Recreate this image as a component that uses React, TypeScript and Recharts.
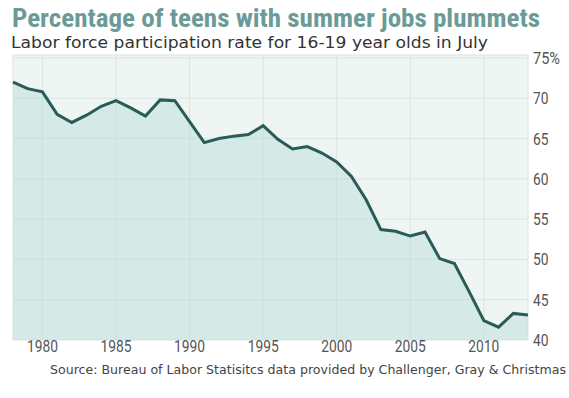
import React from 'react';
import { AreaChart, Area, XAxis, YAxis, CartesianGrid } from 'recharts';

const years = [1978,1979,1980,1981,1982,1983,1984,1985,1986,1987,1988,1989,1990,1991,1992,1993,1994,1995,1996,1997,1998,1999,2000,2001,2002,2003,2004,2005,2006,2007,2008,2009,2010,2011,2012,2013];
const rates = [72.0,71.2,70.8,68.0,67.0,67.9,69.0,69.7,68.8,67.8,69.8,69.7,67.1,64.5,65.0,65.3,65.5,66.6,64.9,63.7,64.0,63.2,62.1,60.3,57.4,53.7,53.5,52.9,53.4,50.1,49.5,46.0,42.4,41.6,43.3,43.1];
const xTicks = [1980,1985,1990,1995,2000,2005,2010];
const yTicks = [40,45,50,55,60,65,70,75];

const title = 'Percentage of teens with summer jobs plummets';
const subtitle = 'Labor force participation rate for 16-19 year olds in July';
const source = 'Source: Bureau of Labor Statisitcs data provided by Challenger, Gray & Christmas';

const data = years.map((y, i) => ({ year: y, rate: rates[i] }));

const narrow = "'Roboto Condensed', 'Liberation Sans Narrow', Roboto, sans-serif";

function XTick(props: any) {
  const { x, y, payload } = props;
  const s = String(payload.value);
  return (
    <text x={x} y={y} dy={12} textAnchor="middle" fill="#555" fontFamily="Roboto, sans-serif" fontSize={17} textLength={31} lengthAdjust="spacingAndGlyphs">{s}</text>
  );
}

function YTick(props: any) {
  const { x, y, payload } = props;
  const s = payload.value === 75 ? '75%' : String(payload.value);
  const w = s.length === 3 ? 27 : 15.5;
  return (
    <text x={x} y={y} dy={6} textAnchor="start" fill="#555" fontFamily="Roboto, sans-serif" fontSize={17} textLength={w} lengthAdjust="spacingAndGlyphs">{s}</text>
  );
}

export default function App() {
  return (
    <div style={{ position: 'absolute', left: 0, top: 0, width: 569, height: 398, background: '#fff' }}>
      <AreaChart width={569} height={398} data={data} margin={{ top: 55, right: 0, bottom: 38, left: 13 }}>
        <CartesianGrid fill="#eff5f2" stroke="#d9e5e1" strokeWidth={1} />
        <XAxis
          dataKey="year"
          type="number"
          domain={[1978, 2013]}
          ticks={xTicks}
          axisLine={false}
          tickLine={false}
          tickSize={0}
          tickMargin={0}
          height={20}
          tick={<XTick />}
        />
        <YAxis
          orientation="right"
          type="number"
          domain={[40, 75.37]}
          ticks={yTicks}
          axisLine={false}
          tickLine={false}
          tickSize={0}
          tickMargin={5}
          width={41}
          allowDataOverflow
          tick={<YTick />}
        />
        <Area
          type="linear"
          dataKey="rate"
          stroke="#2a5c57"
          strokeWidth={3}
          fill="#b6dcd6"
          fillOpacity={0.45}
          isAnimationActive={false}
          dot={false}
          activeDot={false}
        />
      </AreaChart>
      <svg width={569} height={398} style={{ position: 'absolute', left: 0, top: 0, pointerEvents: 'none' }}>
        <text x={12} y={27} fill="#6b9b98" fontFamily={narrow} fontWeight="bold" fontSize={25.5} textLength={528} lengthAdjust="spacingAndGlyphs">{title}</text>
        <text x={11} y={48} fill="#333" fontFamily="'DejaVu Sans', sans-serif" fontSize={16} textLength={477} lengthAdjust="spacingAndGlyphs">{subtitle}</text>
        <text x={50} y={374} fill="#444" fontFamily="'DejaVu Sans', sans-serif" fontSize={11.5} textLength={516} lengthAdjust="spacingAndGlyphs">{source}</text>
      </svg>
    </div>
  );
}
